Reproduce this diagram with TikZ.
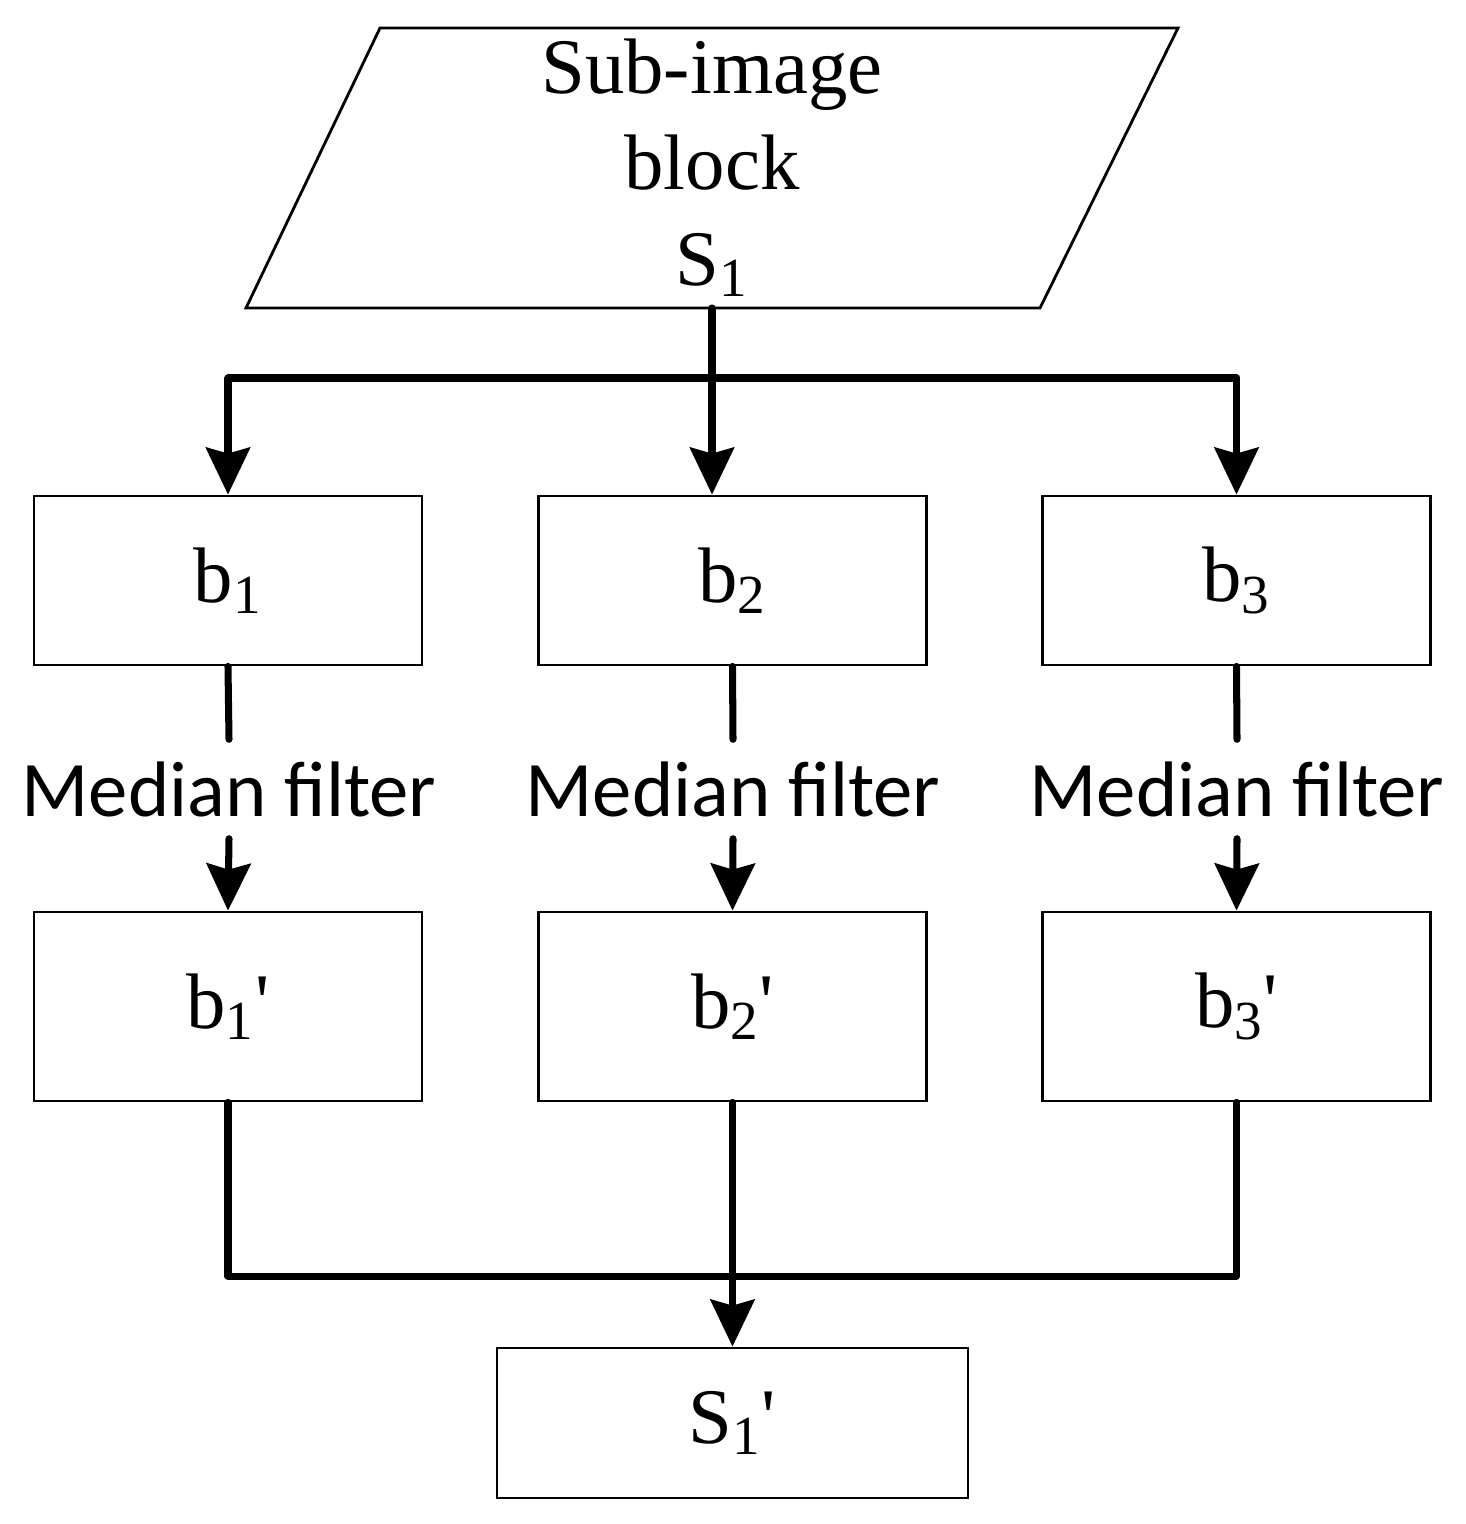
\documentclass[tikz,border=0pt]{standalone}
\usepackage{fontspec}
\setmainfont{Liberation Serif}
\newfontfamily\mfont{Carlito}
\usetikzlibrary{arrows.meta,calc}
\newcommand{\sbs}[1]{\textsubscript{#1}}
\newcommand{\prm}{\textquotesingle}
\begin{document}
\begin{tikzpicture}[
  box/.style={draw, line width=0.8pt, minimum width=3.88cm, minimum height=1.69cm, inner sep=0pt, font=\fontsize{22.4}{27.3}\selectfont},
  lbl/.style={font=\mfont\fontsize{22.4}{27}\selectfont, inner sep=0pt, minimum height=0.98cm},
  conn/.style={line width=2pt, line cap=round, line join=round},
  arr/.style={conn, -{Stealth[length=0.47cm, width=0.44cm, inset=0.06cm]}},
]
\useasboundingbox (0,0) rectangle (14.65,-15.24);
% input parallelogram
\draw[line width=0.8pt] (3.80,-0.28) -- (11.78,-0.28) -- (10.40,-3.08) -- (2.46,-3.08) -- cycle;
\node[align=center, inner sep=0pt, font=\fontsize{22.4}{27.3}\selectfont] (top) at (7.12,-1.68) {Sub-image\\block\\S\sbs{1}};
\coordinate (src) at (7.12,-3.08);
\coordinate (hub) at (7.12,-3.78);
% first row
\node[box] (b1) at (2.28,-5.805) {b\sbs{1}};
\node[box] (b2) at (7.325,-5.805) {b\sbs{2}};
\node[box] (b3) at (12.365,-5.805) {b\sbs{3}};
% labels
\node[lbl] (mf1) at (2.29,-7.89) {Median filter};
\node[lbl] (mf2) at (7.33,-7.89) {Median filter};
\node[lbl] (mf3) at (12.37,-7.89) {Median filter};
% second row
\node[box, minimum height=1.89cm] (c1) at (2.28,-10.065) {b\sbs{1}\prm};
\node[box, minimum height=1.89cm] (c2) at (7.325,-10.065) {b\sbs{2}\prm};
\node[box, minimum height=1.89cm] (c3) at (12.365,-10.065) {b\sbs{3}\prm};
% output
\node[box, minimum width=4.71cm, minimum height=1.50cm] (out) at (7.325,-14.23) {S\sbs{1}\prm};
\coordinate (merge) at (7.34,-12.76);
% top connectors
\draw[conn] (b1.north |- hub) -- (b3.north |- hub);
\draw[arr] (b1.north |- hub) -- (b1.north);
\draw[arr] (src) -- (src |- b2.north);
\draw[arr] (b3.north |- hub) -- (b3.north);
% filter connectors
\draw[conn] (b1.south) -- (mf1.north);
\draw[conn] (b2.south) -- (mf2.north);
\draw[conn] (b3.south) -- (mf3.north);
\draw[arr] (mf1.south) -- (c1.north);
\draw[arr] (mf2.south) -- (c2.north);
\draw[arr] (mf3.south) -- (c3.north);
% merge
\draw[conn] (c1.south) -- (c1.south |- merge) -- (c3.south |- merge) -- (c3.south);
\draw[arr] (c2.south) -- (out.north);
\end{tikzpicture}
\end{document}
